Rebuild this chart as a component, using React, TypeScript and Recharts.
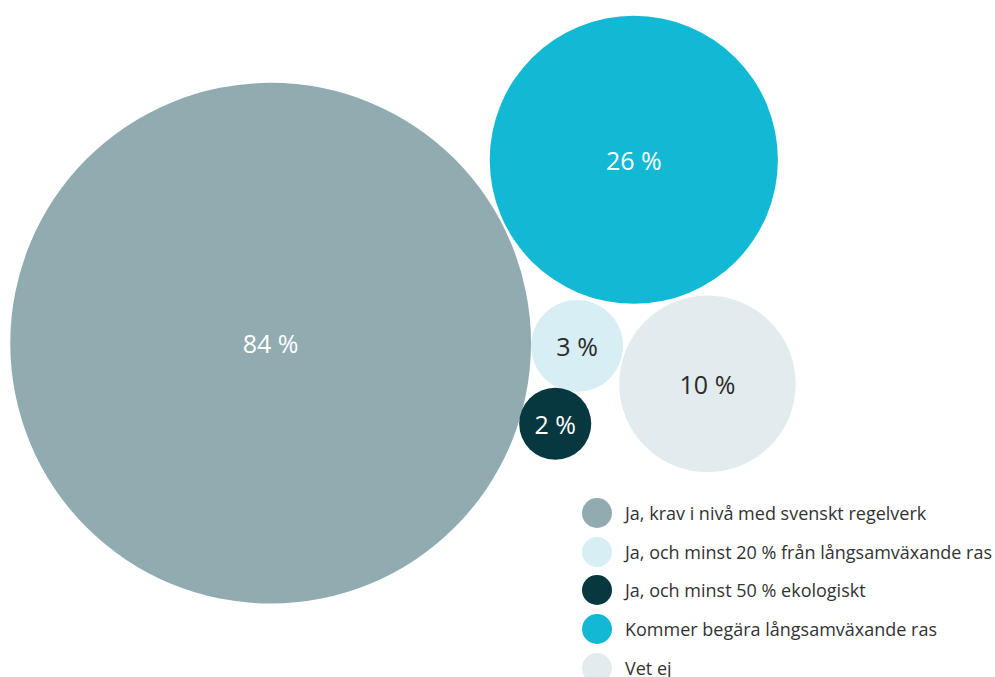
import React from 'react';
import { ScatterChart, Scatter, XAxis, YAxis, ZAxis, Cell, LabelList, Legend } from 'recharts';

// Svarsandelar (%) och bubblornas placering i diagrammets enheter (0-100)
const categories = [
    'Ja, krav i nivå med svenskt regelverk',
    'Ja, och minst 20 % från långsamväxande ras',
    'Ja, och minst 50 % ekologiskt',
    'Kommer begära långsamväxande ras',
    'Vet ej',
];
const values = [84, 3, 2, 26, 10];
const posX = [27.2, 58.0, 55.8, 63.7, 71.1];
const posY = [49.3, 48.9, 37.4, 76.4, 43.3];

const COLORS = ['#90acb0', '#d6eef4', '#073840', '#12b9d4', '#e2ecee'];
const LABEL_COLORS = ['#ffffff', '#2b2b2b', '#ffffff', '#ffffff', '#2b2b2b'];

const data = categories.map((name, i) => ({
    name,
    x: posX[i],
    y: posY[i],
    value: values[i],
    label: `${values[i]} %`,
}));

const FONT = '"Open Sans", Lato, sans-serif';

const renderLabel = (props: any) => {
    const { x, y, width, height, value, index } = props;
    return (
        <text
            x={x + width / 2}
            y={y + height / 2}
            textAnchor="middle"
            dominantBaseline="central"
            fill={LABEL_COLORS[index]}
            fontSize={25}
            fontFamily={FONT}
        >
            {value}
        </text>
    );
};

const renderLegend = () => (
    <div style={{ fontFamily: FONT }}>
        {categories.map((c, i) => (
            <div key={c} style={{ display: 'flex', alignItems: 'center', height: 38.6 }}>
                <span
                    style={{
                        width: 30,
                        height: 30,
                        borderRadius: '50%',
                        background: COLORS[i],
                        display: 'inline-block',
                        marginRight: 13,
                        flexShrink: 0,
                    }}
                />
                <span style={{ fontSize: 18, color: '#333333', whiteSpace: 'nowrap' }}>{c}</span>
            </div>
        ))}
    </div>
);

const App: React.FC = () => {
    return (
        <div style={{ position: 'absolute', left: 0, top: 0, width: 995, height: 677, background: '#fff', overflow: 'hidden' }}>
            <ScatterChart width={995} height={677} margin={{ top: 0, right: 0, bottom: 0, left: 0 }}>
                <XAxis type="number" dataKey="x" domain={[0, 100]} hide />
                <YAxis type="number" dataKey="y" domain={[0, 100]} hide />
                <ZAxis type="number" dataKey="value" domain={[0.4, 84]} range={[0, 213000]} />
                <Scatter data={data} isAnimationActive={false}>
                    {data.map((entry, index) => (
                        <Cell key={`cell-${index}`} fill={COLORS[index]} />
                    ))}
                    <LabelList dataKey="label" content={renderLabel} />
                </Scatter>
                <Legend
                    layout="vertical"
                    align="center"
                    verticalAlign="middle"
                    content={renderLegend}
                    wrapperStyle={{ left: 582, top: 494, width: 413 }}
                />
            </ScatterChart>
        </div>
    );
};

export default App;
